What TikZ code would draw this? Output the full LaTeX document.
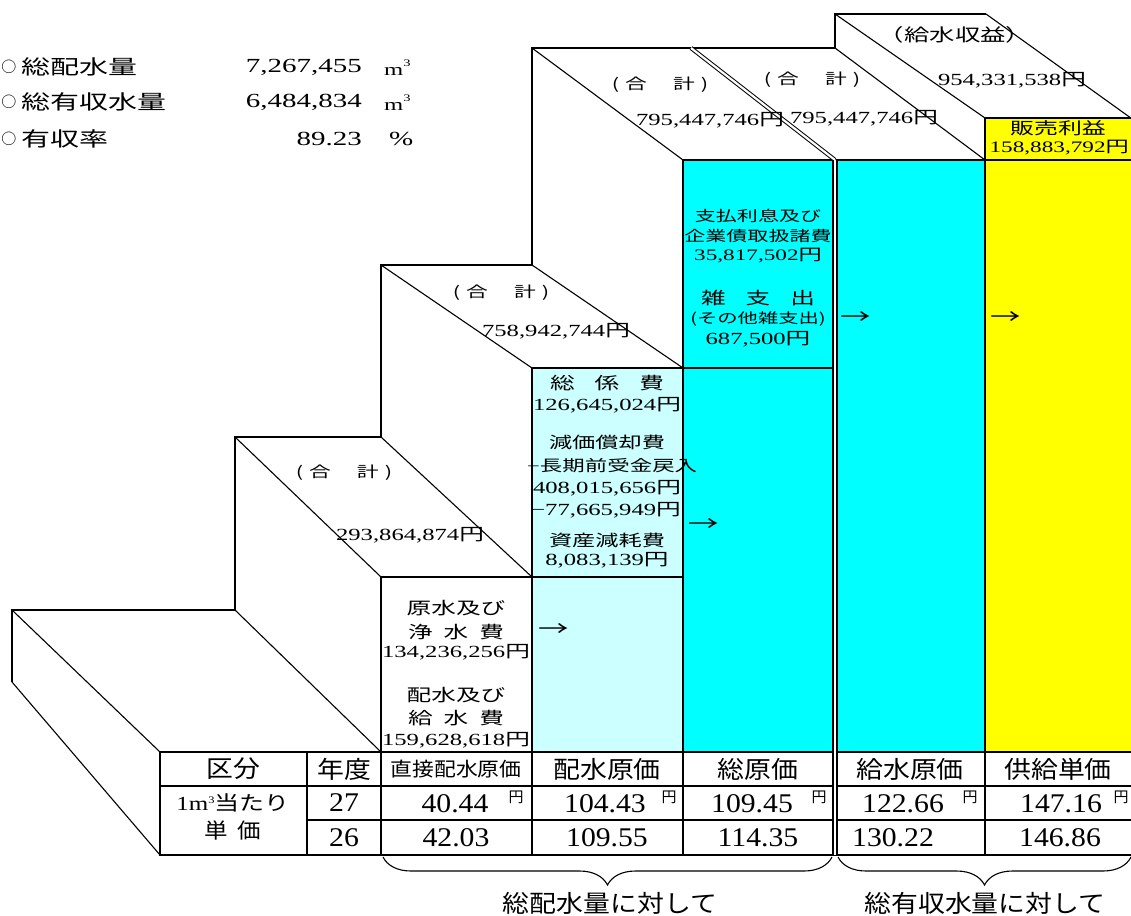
\documentclass[tikz,border=0pt]{standalone}
\usepackage{fontspec}
\usepackage{graphicx}
\usetikzlibrary{decorations.pathreplacing}
\setmainfont{Liberation Serif}
\newfontfamily\numw{Liberation Serif}[FakeStretch=1.45]
\newfontfamily\numc{Liberation Serif}[FakeStretch=1.1]
\newfontfamily\cjkw{Noto Sans CJK JP}[FakeStretch=1.45]
\newfontfamily\cjkh{Noto Sans CJK JP}[FakeStretch=1.12]
\newfontfamily\cjkn{Noto Sans CJK JP}
\let\cjkcur\cjkw
\newcommand\K[1]{{\cjkcur #1}}
\makeatletter
\newcommand\spc[2]{\def\spc@k{#1}\spc@loop#2\relax\unskip}
\def\spc@loop#1{\ifx\relax#1\else#1\hskip\spc@k\relax\expandafter\spc@loop\fi}
\makeatother
\definecolor{lcy}{HTML}{CCFFFF}
\definecolor{cy}{HTML}{00FFFF}
\definecolor{ye}{HTML}{FFFF00}
\begin{document}
\begin{tikzpicture}[x=1pt,y=-1pt,line join=miter,
  thk/.style={line width=2.5pt},
  thn/.style={line width=1.1pt},
  tl/.style={inner sep=0pt,font={\let\cjkcur\cjkw\numw\fontsize{20}{20}\selectfont}},
  bx/.style={inner sep=0pt,font={\let\cjkcur\cjkw\numw\fontsize{17}{17}\selectfont}},
  lb/.style={inner sep=0pt,font={\let\cjkcur\cjkw\numw\fontsize{15}{15}\selectfont}},
  th/.style={inner sep=0pt,font={\let\cjkcur\cjkh\numw\fontsize{24}{24}\selectfont}},
  td/.style={inner sep=0pt,font={\numc\fontsize{27}{27}\selectfont}},
  yen/.style={inner sep=0pt,font={\cjkn\fontsize{15}{15}\selectfont}},
  bt/.style={inner sep=0pt,font={\let\cjkcur\cjkh\fontsize{24}{24}\selectfont}},
  arr/.style={inner sep=0pt,font={\cjkw\fontsize{21}{21}\selectfont}}]
\useasboundingbox (0,0) rectangle (1131,915);
% fills
\fill[lcy] (532,368) rectangle (683,752);
\fill[cy] (683,160) rectangle (985,752);
\fill[ye] (985,118) rectangle (1140,752);
% thin diagonals
\draw[thn] (12,610)--(160,752);
\draw[thn] (12,682)--(160,855);
\draw[thn] (235,610)--(381,752);
\draw[thn] (235,437)--(381,577);
\draw[thn] (381,437)--(532,577);
\draw[thn] (381,265)--(532,368);
\draw[thn] (532,265)--(683,368);
\draw[thn] (532,48)--(683,160);
\draw[thn] (835,48)--(985,160);
\draw[thn] (835,14)--(985,118);
\draw[thn] (986,14)--(1135,121);
% silhouette
\draw[thk] (12,682)--(12,610)--(235,610)--(235,437)--(381,437)--(381,265)--(532,265)--(532,48)--(835,48)--(835,14)--(986,14);
% fronts
\draw[thk] (381,577)--(683,577);
\draw[thk] (532,368)--(835,368);
\draw[thk] (683,160)--(1140,160);
\draw[thk] (985,118)--(1140,118);
\draw[thk] (381,577)--(381,855);
\draw[thk] (532,368)--(532,855);
\draw[thk] (683,160)--(683,855);
\draw[thk] (985,118)--(985,855);
% table
\draw[thk] (160,752) rectangle (1140,855);
\draw[thk] (160,786)--(1140,786);
\draw[thk] (307,820)--(1140,820);
\draw[thk] (307,752)--(307,855);
% double lines
\draw[line width=1pt,double,double distance=2.2pt] (691,48)--(835,160);
\draw[line width=2pt,double,double distance=2pt] (835,160)--(835,855);
% top-left stats
\node[inner sep=0pt,font={\cjkn\fontsize{15}{15}\selectfont}] (o1) at (9,67) {○};
\node[inner sep=0pt,font={\cjkn\fontsize{15}{15}\selectfont}] (o2) at (9,102) {○};
\node[inner sep=0pt,font={\cjkn\fontsize{15}{15}\selectfont}] (o3) at (9,139) {○};
\node[tl,anchor=west] (t1) at (21,67) {\K{総配水量}};
\node[tl,anchor=west] (t2) at (21,102) {\K{総有収水量}};
\node[tl,anchor=west] (t3) at (21,139) {\K{有収率}};
\node[tl,anchor=east] (v1) at (362,67) {7,267,455};
\node[tl,anchor=east] (v2) at (362,102) {6,484,834};
\node[tl,anchor=east] (v3) at (362,139) {89.23};
\node[inner sep=0pt,anchor=west,font={\numw\fontsize{17}{17}\selectfont}] (u1) at (384,68) {m\raisebox{9pt}{\fontsize{10}{10}\selectfont 3}};
\node[inner sep=0pt,anchor=west,font={\numw\fontsize{17}{17}\selectfont}] (u2) at (384,103) {m\raisebox{9pt}{\fontsize{10}{10}\selectfont 3}};
\node[tl,anchor=west] (u3) at (389,139) {\%};
% top labels
\node[lb] (h2) at (344,473) {\K{(}\hspace{6pt}\K{合}\hspace{26pt}\K{計}\hspace{6pt}\K{)}};
\node[bx] (n2) at (410,535) {293,864,874\K{円}};
\node[lb] (h3) at (501,293) {\K{(}\hspace{6pt}\K{合}\hspace{26pt}\K{計}\hspace{6pt}\K{)}};
\node[bx] (n3) at (556,331) {758,942,744\K{円}};
\node[lb] (h4) at (660,85) {\K{(}\hspace{6pt}\K{合}\hspace{26pt}\K{計}\hspace{6pt}\K{)}};
\node[bx] (n4) at (710,120) {795,447,746\K{円}};
\node[lb] (h5) at (812,80) {\K{(}\hspace{6pt}\K{合}\hspace{26pt}\K{計}\hspace{6pt}\K{)}};
\node[bx] (n5) at (864,118) {795,447,746\K{円}};
\node[lb] (h6) at (955,35) {\fontsize{17.5}{17.5}\selectfont\K{（給水収益）}};
\node[bx] (n6) at (1012,80) {954,331,538\K{円}};
\node[lb] (s1) at (1058,128) {\fontsize{16.5}{16.5}\selectfont\K{販売利益}};
\node[bx,anchor=east] (s2) at (1129,148) {\fontsize{16}{16}\selectfont 158,883,792\K{円}};
% white box
\node[bx] (a1) at (456,608) {\K{原水及び}};
\node[bx] (a2) at (456,632) {\K{\spc{11pt}{浄水費}}};
\node[bx] (a3) at (456,652) {134,236,256\K{円}};
\node[bx] (a4) at (456,695) {\K{配水及び}};
\node[bx] (a5) at (456,718) {\K{\spc{11pt}{給水費}}};
\node[bx] (a6) at (456,740) {159,628,618\K{円}};
% light cyan box
\node[bx] (b1) at (607,383) {\K{\spc{20pt}{総係費}}};
\node[bx] (b2) at (607,405) {126,645,024\K{円}};
\node[bx] (b3) at (607,442) {\fontsize{16}{16}\selectfont\K{減価償却費}};
\node[bx,anchor=west] (b4) at (527,466) {\fontsize{15.5}{15.5}\selectfont −\K{長期前受金戻入}};
\node[bx] (b5) at (607,488) {408,015,656\K{円}};
\node[bx,anchor=east] (b6) at (681,510) {−77,665,949\K{円}};
\node[bx] (b7) at (607,540) {\fontsize{16}{16}\selectfont\K{資産減耗費}};
\node[bx] (b8) at (607,560) {8,083,139\K{円}};
% cyan box
\node[bx] (c1) at (758,216) {\fontsize{14.5}{14.5}\selectfont\K{支払利息及び}};
\node[bx] (c2) at (758,236) {\fontsize{14.5}{14.5}\selectfont\K{企業債取扱諸費}};
\node[bx] (c3) at (758,256) {\fontsize{16}{16}\selectfont 35,817,502\K{円}};
\node[bx] (c4) at (758,298) {\K{\spc{20pt}{雑支出}}};
\node[bx] (c5) at (758,319) {\fontsize{14}{14}\selectfont\K{(その他雑支出)}};
\node[bx] (c6) at (758,339) {687,500\K{円}};
% arrows
\node[arr] (r1) at (554,630) {→};
\node[arr] (r2) at (704,525) {→};
\node[arr] (r3) at (856,318) {→};
\node[arr] (r4) at (1006,318) {→};
% table header
\node[th] (k1) at (233,769) {\K{区分}};
\node[th] (k2) at (344,769) {\K{年度}};
\node[th] (k3) at (456,769) {\fontsize{19.5}{19.5}\selectfont\K{直接配水原価}};
\node[th] (k4) at (607,769) {\K{配水原価}};
\node[th] (k5) at (758,769) {\K{総原価}};
\node[th] (k6) at (910,769) {\K{給水原価}};
\node[th] (k7) at (1058,769) {\K{供給単価}};
\node[inner sep=0pt] (k8) at (233,803) {\scalebox{1.25}[1]{\fontsize{20}{20}\selectfont 1m\raisebox{7pt}{\fontsize{10}{10}\selectfont 3}{\cjkn 当たり}}};
\node[th] (k9) at (233,831) {\fontsize{21}{21}\selectfont\K{\spc{10pt}{単価}}};
% table values
\node[td] (y27) at (344,803) {27};
\node[td] (y26) at (344,838) {26};
\node[td] (d11) at (455,804) {40.44};
\node[td] (d12) at (605,804) {104.43};
\node[td] (d13) at (752,804) {109.45};
\node[td] (d14) at (903,804) {122.66};
\node[td] (d15) at (1061,804) {147.16};
\node[yen] (e11) at (516,797) {円};
\node[yen] (e12) at (669,797) {円};
\node[yen] (e13) at (819,797) {円};
\node[yen] (e14) at (970,797) {円};
\node[yen] (e15) at (1121,797) {円};
\node[td] (d21) at (456,838) {42.03};
\node[td] (d22) at (607,838) {109.55};
\node[td] (d23) at (758,838) {114.35};
\node[td] (d24) at (893,838) {130.22};
\node[td] (d25) at (1060,838) {146.86};
% braces
\draw[thn,decorate,decoration={brace,mirror,amplitude=28pt}] (383,857) -- (832,857);
\draw[thn,decorate,decoration={brace,mirror,amplitude=28pt}] (838,857) -- (1131,857);
\node[bt] (f1) at (610,903) {\K{総配水量に対して}};
\node[bt] (f2) at (985,903) {\K{総有収水量に対して}};
\end{tikzpicture}
\end{document}
